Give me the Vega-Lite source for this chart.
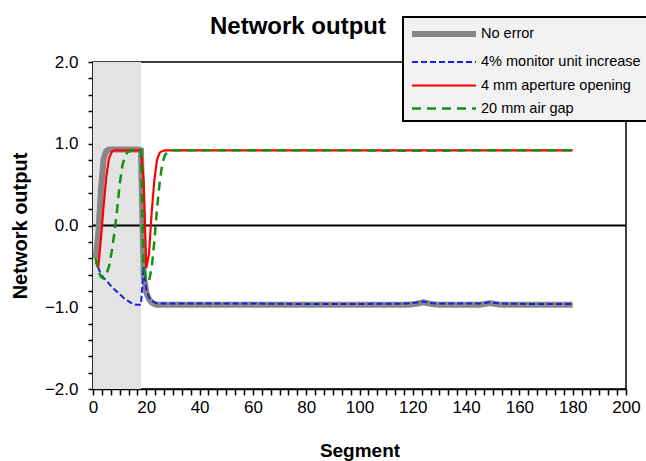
{
  "$schema": "https://vega.github.io/schema/vega-lite/v6.json",
  "width": 533,
  "height": 327,
  "autosize": {"type": "none"},
  "padding": {"left": 93, "top": 62, "right": 20, "bottom": 72},
  "background": "white",
  "config": {"view": {"stroke": "black", "strokeWidth": 1.5}, "font": "Liberation Sans", "legend": {"strokeWidth": 2}},
  "title": {"text": "Network output", "anchor": "start", "frame": "group", "dx": 117, "dy": 69, "fontSize": 24, "font": "Liberation Sans", "fontWeight": "bold", "color": "black", "baseline": "alphabetic", "offset": 27},
  "encoding": {
    "x": {
      "field": "segment", "type": "quantitative",
      "scale": {"domain": [0, 200], "nice": false},
      "axis": {
        "title": "Segment", "titleFontSize": 19, "titleFontWeight": "bold", "titleColor": "black", "titlePadding": 26,
        "values": [0, 3.3333, 6.6667, 10, 13.3333, 16.6667, 20, 23.3333, 26.6667, 30, 33.3333, 36.6667, 40, 43.3333, 46.6667, 50, 53.3333, 56.6667, 60, 63.3333, 66.6667, 70, 73.3333, 76.6667, 80, 83.3333, 86.6667, 90, 93.3333, 96.6667, 100, 103.3333, 106.6667, 110, 113.3333, 116.6667, 120, 123.3333, 126.6667, 130, 133.3333, 136.6667, 140, 143.3333, 146.6667, 150, 153.3333, 156.6667, 160, 163.3333, 166.6667, 170, 173.3333, 176.6667, 180, 183.3333, 186.6667, 190, 193.3333, 196.6667, 200],
        "labelExpr": "datum.value % 20 === 0 ? format(datum.value, 'd') : ''",
        "labelFontSize": 17, "labelColor": "black", "labelPadding": 4, "labelFlush": false, "labelOverlap": false,
        "tickSize": 6, "tickColor": "black", "tickWidth": 1.5,
        "domainColor": "black", "domainWidth": 1.5, "grid": false
      }
    },
    "y": {
      "field": "value", "type": "quantitative",
      "scale": {"domain": [-2, 2], "nice": false},
      "axis": {
        "title": "Network output", "titleFontSize": 20, "titleFontWeight": "bold", "titleColor": "black", "titlePadding": 14,
        "values": [-2, -1.8, -1.6, -1.4, -1.2, -1, -0.8, -0.6, -0.4, -0.2, 0, 0.2, 0.4, 0.6, 0.8, 1, 1.2, 1.4, 1.6, 1.8, 2],
        "labelExpr": "abs(datum.value - round(datum.value)) < 0.001 ? format(datum.value, '.1f') : ''",
        "labelFontSize": 17, "labelColor": "black", "labelPadding": 10, "labelFlush": false, "labelOverlap": false,
        "tickSize": 5, "tickColor": "black", "tickWidth": 1.5,
        "domainColor": "black", "domainWidth": 1.5, "grid": false
      }
    }
  },
  "layer": [
    {
      "data": {"values": [{"segment": 0, "segment_end": 18, "value": -2, "value_end": 2}]},
      "mark": {"type": "rect", "color": "#e3e3e3"},
      "encoding": {
        "x2": {"field": "segment_end"},
        "y2": {"field": "value_end"}
      }
    },
    {
      "data": {"values": [{"segment": 0, "segment_end": 200, "value": 0}]},
      "mark": {"type": "rule", "color": "black", "strokeWidth": 1.8},
      "encoding": {"x2": {"field": "segment_end"}}
    },
    {
      "data": {"values": [
        {"segment": 1, "series": "No error", "value": -0.4},
        {"segment": 2, "series": "No error", "value": -0.1},
        {"segment": 3, "series": "No error", "value": 0.45},
        {"segment": 4, "series": "No error", "value": 0.82},
        {"segment": 5, "series": "No error", "value": 0.91},
        {"segment": 6, "series": "No error", "value": 0.93},
        {"segment": 17, "series": "No error", "value": 0.93},
        {"segment": 18, "series": "No error", "value": 0.92},
        {"segment": 19, "series": "No error", "value": -0.6},
        {"segment": 20, "series": "No error", "value": -0.82},
        {"segment": 21, "series": "No error", "value": -0.9},
        {"segment": 22, "series": "No error", "value": -0.94},
        {"segment": 23, "series": "No error", "value": -0.96},
        {"segment": 24, "series": "No error", "value": -0.97},
        {"segment": 30, "series": "No error", "value": -0.97},
        {"segment": 40, "series": "No error", "value": -0.97},
        {"segment": 60, "series": "No error", "value": -0.97},
        {"segment": 80, "series": "No error", "value": -0.97},
        {"segment": 100, "series": "No error", "value": -0.97},
        {"segment": 118, "series": "No error", "value": -0.97},
        {"segment": 121, "series": "No error", "value": -0.96},
        {"segment": 124, "series": "No error", "value": -0.94},
        {"segment": 127, "series": "No error", "value": -0.96},
        {"segment": 130, "series": "No error", "value": -0.97},
        {"segment": 145, "series": "No error", "value": -0.97},
        {"segment": 149, "series": "No error", "value": -0.95},
        {"segment": 153, "series": "No error", "value": -0.97},
        {"segment": 165, "series": "No error", "value": -0.97},
        {"segment": 180, "series": "No error", "value": -0.97},
        {"segment": 1, "series": "4% monitor unit increase", "value": -0.4},
        {"segment": 2, "series": "4% monitor unit increase", "value": -0.52},
        {"segment": 3, "series": "4% monitor unit increase", "value": -0.6},
        {"segment": 4, "series": "4% monitor unit increase", "value": -0.64},
        {"segment": 5, "series": "4% monitor unit increase", "value": -0.67},
        {"segment": 6, "series": "4% monitor unit increase", "value": -0.71},
        {"segment": 7, "series": "4% monitor unit increase", "value": -0.75},
        {"segment": 8, "series": "4% monitor unit increase", "value": -0.78},
        {"segment": 9, "series": "4% monitor unit increase", "value": -0.81},
        {"segment": 10, "series": "4% monitor unit increase", "value": -0.84},
        {"segment": 11, "series": "4% monitor unit increase", "value": -0.87},
        {"segment": 12, "series": "4% monitor unit increase", "value": -0.9},
        {"segment": 13, "series": "4% monitor unit increase", "value": -0.92},
        {"segment": 14, "series": "4% monitor unit increase", "value": -0.94},
        {"segment": 15, "series": "4% monitor unit increase", "value": -0.96},
        {"segment": 16, "series": "4% monitor unit increase", "value": -0.97},
        {"segment": 17, "series": "4% monitor unit increase", "value": -0.97},
        {"segment": 18, "series": "4% monitor unit increase", "value": -0.97},
        {"segment": 19, "series": "4% monitor unit increase", "value": -0.5},
        {"segment": 20, "series": "4% monitor unit increase", "value": -0.78},
        {"segment": 21, "series": "4% monitor unit increase", "value": -0.88},
        {"segment": 22, "series": "4% monitor unit increase", "value": -0.92},
        {"segment": 23, "series": "4% monitor unit increase", "value": -0.94},
        {"segment": 24, "series": "4% monitor unit increase", "value": -0.95},
        {"segment": 25, "series": "4% monitor unit increase", "value": -0.955},
        {"segment": 40, "series": "4% monitor unit increase", "value": -0.955},
        {"segment": 60, "series": "4% monitor unit increase", "value": -0.955},
        {"segment": 80, "series": "4% monitor unit increase", "value": -0.96},
        {"segment": 100, "series": "4% monitor unit increase", "value": -0.96},
        {"segment": 118, "series": "4% monitor unit increase", "value": -0.955},
        {"segment": 121, "series": "4% monitor unit increase", "value": -0.945},
        {"segment": 124, "series": "4% monitor unit increase", "value": -0.93},
        {"segment": 127, "series": "4% monitor unit increase", "value": -0.95},
        {"segment": 130, "series": "4% monitor unit increase", "value": -0.955},
        {"segment": 145, "series": "4% monitor unit increase", "value": -0.955},
        {"segment": 149, "series": "4% monitor unit increase", "value": -0.94},
        {"segment": 153, "series": "4% monitor unit increase", "value": -0.955},
        {"segment": 165, "series": "4% monitor unit increase", "value": -0.96},
        {"segment": 180, "series": "4% monitor unit increase", "value": -0.96},
        {"segment": 1, "series": "4 mm aperture opening", "value": -0.45},
        {"segment": 2, "series": "4 mm aperture opening", "value": -0.5},
        {"segment": 3, "series": "4 mm aperture opening", "value": -0.15},
        {"segment": 4, "series": "4 mm aperture opening", "value": 0.25},
        {"segment": 5, "series": "4 mm aperture opening", "value": 0.6},
        {"segment": 6, "series": "4 mm aperture opening", "value": 0.82},
        {"segment": 7, "series": "4 mm aperture opening", "value": 0.9},
        {"segment": 8, "series": "4 mm aperture opening", "value": 0.92},
        {"segment": 18, "series": "4 mm aperture opening", "value": 0.92},
        {"segment": 19, "series": "4 mm aperture opening", "value": 0.55},
        {"segment": 20, "series": "4 mm aperture opening", "value": -0.52},
        {"segment": 21, "series": "4 mm aperture opening", "value": -0.35},
        {"segment": 22, "series": "4 mm aperture opening", "value": 0.15},
        {"segment": 23, "series": "4 mm aperture opening", "value": 0.55},
        {"segment": 24, "series": "4 mm aperture opening", "value": 0.8},
        {"segment": 25, "series": "4 mm aperture opening", "value": 0.89},
        {"segment": 26, "series": "4 mm aperture opening", "value": 0.91},
        {"segment": 27, "series": "4 mm aperture opening", "value": 0.92},
        {"segment": 60, "series": "4 mm aperture opening", "value": 0.92},
        {"segment": 100, "series": "4 mm aperture opening", "value": 0.92},
        {"segment": 140, "series": "4 mm aperture opening", "value": 0.92},
        {"segment": 180, "series": "4 mm aperture opening", "value": 0.92},
        {"segment": 1, "series": "20 mm air gap", "value": -0.4},
        {"segment": 2, "series": "20 mm air gap", "value": -0.55},
        {"segment": 3, "series": "20 mm air gap", "value": -0.63},
        {"segment": 4, "series": "20 mm air gap", "value": -0.65},
        {"segment": 5, "series": "20 mm air gap", "value": -0.6},
        {"segment": 6, "series": "20 mm air gap", "value": -0.5},
        {"segment": 7, "series": "20 mm air gap", "value": -0.32},
        {"segment": 8, "series": "20 mm air gap", "value": -0.1},
        {"segment": 9, "series": "20 mm air gap", "value": 0.18},
        {"segment": 10, "series": "20 mm air gap", "value": 0.5},
        {"segment": 11, "series": "20 mm air gap", "value": 0.73},
        {"segment": 12, "series": "20 mm air gap", "value": 0.85},
        {"segment": 13, "series": "20 mm air gap", "value": 0.9},
        {"segment": 14, "series": "20 mm air gap", "value": 0.91},
        {"segment": 15, "series": "20 mm air gap", "value": 0.92},
        {"segment": 18, "series": "20 mm air gap", "value": 0.92},
        {"segment": 19, "series": "20 mm air gap", "value": -0.5},
        {"segment": 20, "series": "20 mm air gap", "value": -0.66},
        {"segment": 21, "series": "20 mm air gap", "value": -0.68},
        {"segment": 22, "series": "20 mm air gap", "value": -0.52},
        {"segment": 23, "series": "20 mm air gap", "value": -0.2},
        {"segment": 24, "series": "20 mm air gap", "value": 0.2},
        {"segment": 25, "series": "20 mm air gap", "value": 0.52},
        {"segment": 26, "series": "20 mm air gap", "value": 0.76},
        {"segment": 27, "series": "20 mm air gap", "value": 0.86},
        {"segment": 28, "series": "20 mm air gap", "value": 0.9},
        {"segment": 29, "series": "20 mm air gap", "value": 0.91},
        {"segment": 30, "series": "20 mm air gap", "value": 0.92},
        {"segment": 60, "series": "20 mm air gap", "value": 0.92},
        {"segment": 100, "series": "20 mm air gap", "value": 0.92},
        {"segment": 110, "series": "20 mm air gap", "value": 0.915},
        {"segment": 130, "series": "20 mm air gap", "value": 0.915},
        {"segment": 140, "series": "20 mm air gap", "value": 0.92},
        {"segment": 180, "series": "20 mm air gap", "value": 0.92}
      ]},
      "mark": {"type": "line", "strokeCap": "butt"},
      "encoding": {
        "color": {
          "field": "series", "type": "nominal",
          "scale": {"domain": ["No error", "4% monitor unit increase", "4 mm aperture opening", "20 mm air gap"], "range": ["#878787", "#1f1fd6", "#ff0000", "#129212"]},
          "legend": {
            "orient": "none", "legendX": 310, "legendY": -45, "title": null,
            "symbolType": "M-1,0H7", "symbolSize": 256, "labelFontSize": 14.5, "labelFont": "Liberation Sans", "labelColor": "black", "labelLimit": 300,
            "fillColor": "#f2f2f2", "strokeColor": "black", "padding": 6, "labelOffset": 50, "rowPadding": 7
          }
        },
        "strokeDash": {
          "field": "series", "type": "nominal",
          "scale": {"domain": ["No error", "4% monitor unit increase", "4 mm aperture opening", "20 mm air gap"], "range": [[1, 0], [6, 3], [1, 0], [9, 6]]}
        },
        "strokeWidth": {
          "field": "series", "type": "nominal",
          "scale": {"type": "ordinal", "domain": ["No error", "4% monitor unit increase", "4 mm aperture opening", "20 mm air gap"], "range": [6, 2, 2.2, 2.5]}
        }
      }
    }
  ]
}
